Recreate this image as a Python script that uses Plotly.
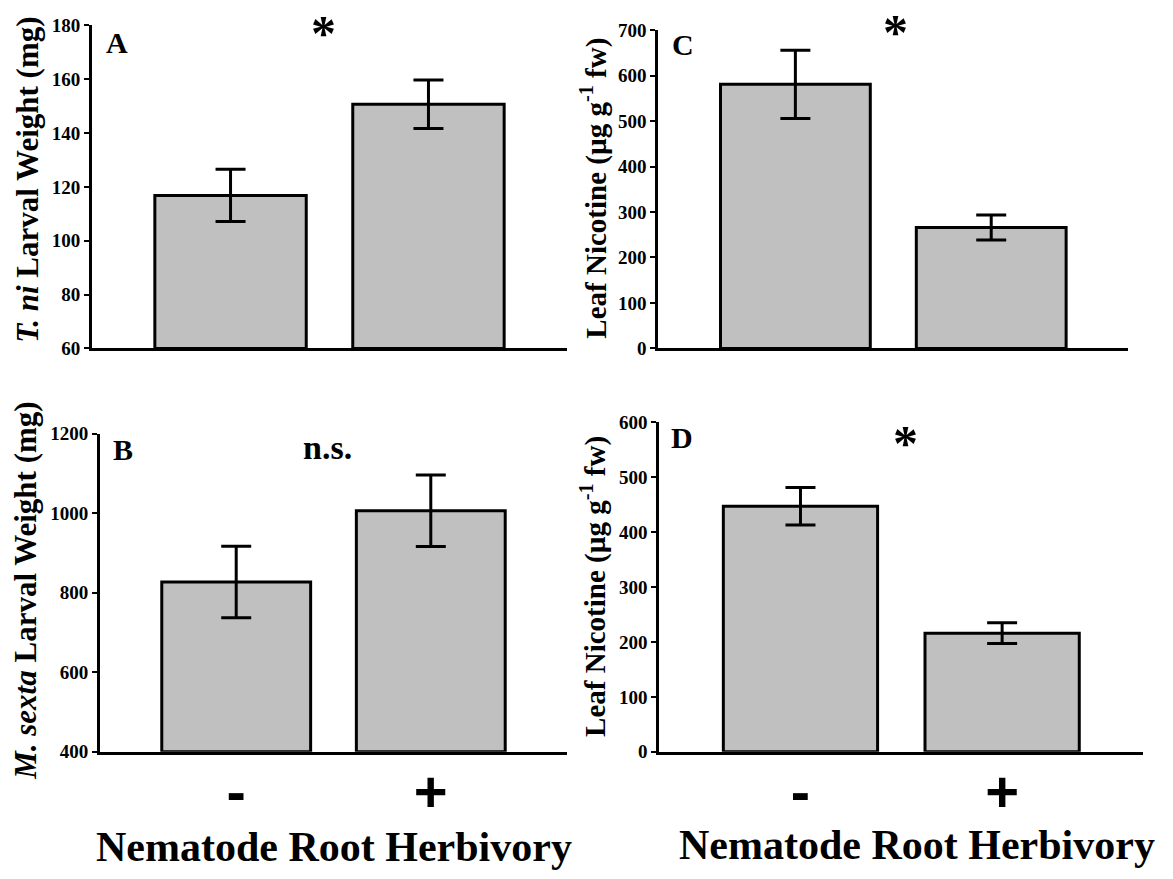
import plotly.graph_objects as go

# ---------------- data ----------------
categories = ["-", "+"]          # nematode root herbivory absent / present

tni_weight_mean = [116.8, 150.7]     # Panel A: T. ni larval weight (mg)
tni_weight_se = [9.7, 9.0]

msexta_weight_mean = [827, 1006]     # Panel B: M. sexta larval weight (mg)
msexta_weight_se = [90, 90]

nicotine_c_mean = [581, 266]         # Panel C: leaf nicotine (ug/g fw)
nicotine_c_se = [75, 27.5]

nicotine_d_mean = [447, 216]         # Panel D: leaf nicotine (ug/g fw)
nicotine_d_se = [34, 19]

yticks_a = [60, 80, 100, 120, 140, 160, 180]
yticks_b = [400, 600, 800, 1000, 1200]
yticks_c = [0, 100, 200, 300, 400, 500, 600, 700]
yticks_d = [0, 100, 200, 300, 400, 500, 600]

panel_letters = ["A", "B", "C", "D"]
signif_marks = ["*", "n.s.", "*", "*"]
y_titles = [
    "<i>T. ni</i> Larval Weight (mg)",
    "<i>M. sexta</i> Larval Weight (mg)",
    "Leaf Nicotine (µg g<sup>-1</sup> fw)",
    "Leaf Nicotine (µg g<sup>-1</sup> fw)",
]
x_title = "Nematode Root Herbivory"

# ---------------- layout helpers ----------------
W, H = 1173, 879
SERIF = "Liberation Serif, Times New Roman, serif"
SANS = "Liberation Sans, Arial, sans-serif"


def fx(px):
    return px / W


def fy(py):
    return 1 - py / H


panels = [
    # name, x-domain px, y-domain px (top, bottom), means, errors, ticks, show x labels
    ("", (92, 567), (15.7, 346.7), tni_weight_mean, tni_weight_se, yticks_a, False),
    ("2", (100, 567), (434, 760), msexta_weight_mean, msexta_weight_se, yticks_b, True),
    ("3", (658.3, 1128.3), (20.7, 346.7), nicotine_c_mean, nicotine_c_se, yticks_c, False),
    ("4", (659.3, 1143.3), (422.2, 760), nicotine_d_mean, nicotine_d_se, yticks_d, True),
]

fig = go.Figure()
layout = {}
xpos = [0, 1]

for suffix, (x0, x1), (ytop, ybot), means, errs, yticks, showx in panels:
    fig.add_trace(go.Bar(
        x=xpos, y=[m - yticks[0] for m in means],
        base=yticks[0],
        width=0.765,
        marker=dict(color="#c0c0c0", line=dict(color="black", width=3)),
        error_y=dict(type="data", array=errs, visible=True,
                     color="black", thickness=3, width=15),
        xaxis="x" + suffix, yaxis="y" + suffix,
        showlegend=False, hoverinfo="skip",
    ))
    layout["xaxis" + suffix] = dict(
        domain=[fx(x0), fx(x1)], range=[-0.7, 1.7],
        anchor="y" + suffix,
        showline=True, linecolor="black", linewidth=3,
        showgrid=False, zeroline=False, ticks="",
        tickvals=xpos if showx else [],
        ticktext=categories if showx else [],
        showticklabels=showx,
        tickfont=dict(family=SANS, size=58, color="black", weight="bold"),
        ticklabelstandoff=-12,
        fixedrange=True,
    )
    layout["yaxis" + suffix] = dict(
        domain=[fy(ybot), fy(ytop)], range=[yticks[0], yticks[-1]],
        anchor="x" + suffix,
        showline=True, linecolor="black", linewidth=3,
        showgrid=False, zeroline=False,
        ticks="outside", ticklen=5, tickwidth=2, tickcolor="black",
        tickvals=yticks, ticktext=[str(t) for t in yticks],
        tickfont=dict(family=SERIF, size=19, color="black", weight="bold"),
        fixedrange=True,
    )

annotations = []


def txt(text, px, py, size, family=SERIF, angle=0, xanchor="center", yanchor="middle"):
    annotations.append(dict(
        text=text, x=fx(px), y=fy(py), xref="paper", yref="paper",
        xanchor=xanchor, yanchor=yanchor, showarrow=False, textangle=angle,
        font=dict(family=family, size=size, color="black", weight="bold"),
    ))


# panel letters
for letter, (px, py) in zip(panel_letters, [(117, 33), (123, 450), (683, 35), (682, 438)]):
    txt(letter, px, py, 30)

# significance marks
for mark, (px, py), size in zip(signif_marks,
                                [(323, 24), (327, 448), (895, 23), (905, 444)],
                                [50, 34, 50, 50]):
    txt(mark, px, py, size)

# y-axis titles
for title, (px, py), size in zip(y_titles,
                                 [(28, 174), (26, 595), (594, 183), (594, 591)],
                                 [31, 31, 29, 29]):
    txt(title, px, py, size, angle=-90)

# x-axis titles (bottom panels)
txt(x_title, 334, 857, 42)
txt(x_title, 917, 855, 42)

layout["annotations"] = annotations
fig.update_layout(
    width=W, height=H,
    margin=dict(l=0, r=0, t=0, b=0),
    paper_bgcolor="white", plot_bgcolor="white",
    showlegend=False,
    **layout,
)

fig.write_html("out.html")
